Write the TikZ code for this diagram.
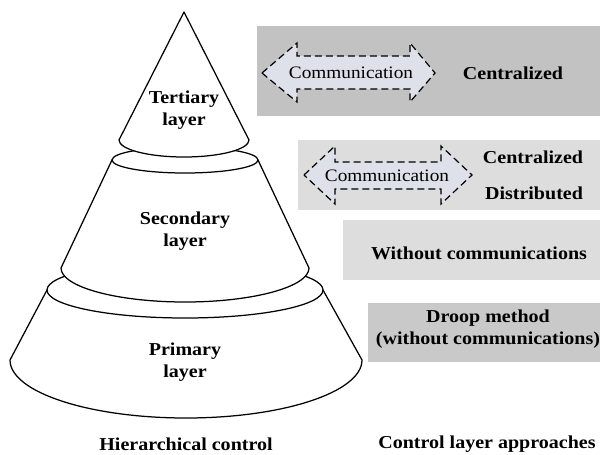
\documentclass[tikz,border=0pt]{standalone}
\usepackage{fontspec}
\setmainfont{Liberation Serif}[FakeStretch=1.1]
\begin{document}
\begin{tikzpicture}[x=1pt,y=-1pt,
  layer/.style={draw=black,fill=white,line width=1.25pt,line join=round},
  lbl/.style={font=\fontsize{18.2}{22}\selectfont\bfseries,align=center,inner sep=0pt},
  commtxt/.style={font=\fontsize{17.5}{22}\selectfont,inner sep=0pt},
  commarrow/.style={draw=black,fill=arrowfill,line width=1.2pt,dash pattern=on 7pt off 4pt},
  panel/.style={draw=none,inner sep=0pt}]
\definecolor{darkpanel}{RGB}{194,194,194}
\definecolor{lightpanel}{RGB}{221,221,221}
\definecolor{drooppanel}{RGB}{201,201,201}
\definecolor{arrowfill}{RGB}{222,224,234}
\useasboundingbox (0,0) rectangle (600,455);
\fill[white] (0,0) rectangle (600,455);

% ---- hierarchical pyramid, drawn from the base upwards ----
\draw[layer] (47,290) -- (10,360) arc[start angle=180,end angle=360,x radius=176pt,y radius=58pt] -- (323,290) -- cycle;
\draw[layer] (185,290) ellipse [x radius=138, y radius=28];
\draw[layer] (112,160) -- (61,268) arc[start angle=180,end angle=360,x radius=124pt,y radius=34pt] -- (258,160) -- cycle;
\draw[layer] (185,160) ellipse [x radius=73, y radius=13];
\draw[layer] (119,140) arc[start angle=180,end angle=360,x radius=65pt,y radius=17pt] -- (184,12) -- cycle;

\node[lbl] (tertiary) at (184,110) {Tertiary\\layer};
\node[lbl] (secondary) at (185,231) {Secondary\\layer};
\node[lbl] (primary) at (185,362) {Primary\\layer};
\node[lbl] (hiercap) at (186,444) {Hierarchical control};

% ---- control approaches ----
\fill[darkpanel] (257,26) rectangle (600,116);
\fill[lightpanel] (298,140) rectangle (600,210);
\fill[lightpanel] (343,220) rectangle (600,280);
\fill[drooppanel] (368,303) rectangle (600,362);

% communication arrows
\draw[commarrow] (262,73) -- (297,43) -- (297,56) -- (410,56) -- (410,43) -- (435,73)
  -- (410,102) -- (410,89) -- (297,89) -- (297,102) -- cycle;
\node[commtxt] (comm1) at (351,73) {Communication};
\draw[commarrow] (304,175) -- (335,146) -- (335,162) -- (441,162) -- (441,146) -- (472,175)
  -- (441,204) -- (441,189) -- (335,189) -- (335,204) -- cycle;
\node[commtxt] (comm2) at (387,176) {Communication};

\node[lbl] (central1) at (513,73) {Centralized};
\node[lbl] (central2) at (533,157) {Centralized};
\node[lbl] (distrib) at (534,193) {Distributed};
\node[lbl] (nocomm) at (479,253) {Without communications};
\node[lbl] (droop) at (488,329) {Droop method\\(without communications)};
\node[lbl] (approcap) at (487,444) {Control layer approaches};
\end{tikzpicture}
\end{document}
